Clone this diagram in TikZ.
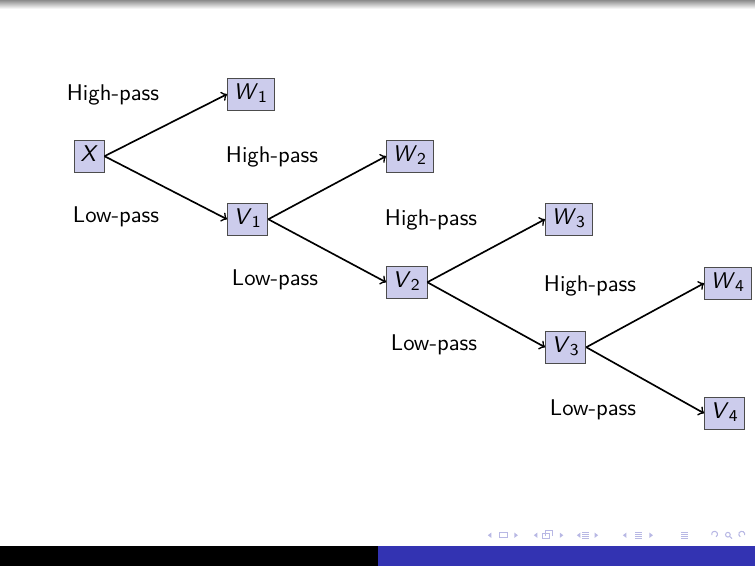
\documentclass[tikz,border=0pt]{standalone}
\usepackage{tikz}
\usetikzlibrary{arrows, positioning}
\definecolor{structblue}{RGB}{51,51,178}
\tikzstyle{filterbox} = [rectangle, draw=black!70, fill=structblue!25, minimum height=0.54cm, inner sep=0.3em, anchor=west, text height=1.6ex, text depth=0.45ex]
\tikzstyle{passlabel} = [inner sep=0pt]
\tikzstyle{arrow} = [thick,->]
\tikzstyle{navsym} = [structblue!35, line width=0.5pt]
\newcommand{\sig}[2]{\textit{#1}\textsubscript{#2}}

\begin{document}
\begin{tikzpicture}[font=\sffamily\fontsize{10.95}{13}\selectfont]
    \useasboundingbox (0,0) rectangle (12.8,9.6);
    % slide frame
    \shade[top color=black!45, bottom color=white] (0,9.45) rectangle (12.8,9.6);
    \fill[black] (0,0) rectangle (6.4,0.34);
    \fill[structblue] (6.4,0) rectangle (12.8,0.34);

    \node (x) [filterbox] at (1.255,6.952) {\textit{X}};
    \node (w1) [filterbox] at (3.849,8.003) {\sig{W}{1}};
    \node (v1) [filterbox] at (3.849,5.883) {\sig{V}{1}};
    \node (w2) [filterbox] at (6.545,6.952) {\sig{W}{2}};
    \node (v2) [filterbox] at (6.545,4.815) {\sig{V}{2}};
    \node (w3) [filterbox] at (9.240,5.883) {\sig{W}{3}};
    \node (v3) [filterbox] at (9.240,3.713) {\sig{V}{3}};
    \node (w4) [filterbox] at (11.936,4.798) {\sig{W}{4}};
    \node (v4) [filterbox] at (11.936,2.594) {\sig{V}{4}};

    \node (hp1) [passlabel] at (1.916,7.986) {High-pass};
    \node (lp1) [passlabel] at (1.967,5.917) {Low-pass};
    \node (hp2) [passlabel] at (4.612,6.935) {High-pass};
    \node (lp2) [passlabel] at (4.663,4.849) {Low-pass};
    \node (hp3) [passlabel] at (7.308,5.866) {High-pass};
    \node (lp3) [passlabel] at (7.358,3.747) {Low-pass};
    \node (hp4) [passlabel] at (10.003,4.747) {High-pass};
    \node (lp4) [passlabel] at (10.054,2.645) {Low-pass};

    \draw [arrow] (x.east) -- (w1.west);
    \draw [arrow] (x.east) -- (v1.west);
    \draw [arrow] (v1.east) -- (w2.west);
    \draw [arrow] (v1.east) -- (v2.west);
    \draw [arrow] (v2.east) -- (w3.west);
    \draw [arrow] (v2.east) -- (v3.west);
    \draw [arrow] (v3.east) -- (w4.west);
    \draw [arrow] (v3.east) -- (v4.west);

    % navigation symbols
    \begin{scope}[navsym]
        \foreach \lx/\rx in {8.27/8.78, 9.05/9.55, 9.78/10.14, 10.56/11.07} {
            \fill (\lx,0.526) -- ++(0.06,0.045) -- ++(0,-0.09) -- cycle;
            \fill (\rx,0.526) -- ++(-0.06,0.045) -- ++(0,-0.09) -- cycle;
        }
        \draw (8.46,0.48) rectangle (8.60,0.57);
        \draw (9.20,0.47) rectangle (9.32,0.56);
        \draw (9.25,0.51) -- (9.25,0.60) -- (9.37,0.60) -- (9.37,0.51);
        \foreach \bx in {9.93, 10.83, 11.61} {
            \foreach \dy in {-0.05,-0.017,0.017,0.05}
                \draw (\bx-0.06,0.526+\dy) -- (\bx+0.06,0.526+\dy);
        }
        \draw (12.14,0.50) arc (-60:200:0.05);
        \draw (12.34,0.535) circle (0.04);
        \draw (12.37,0.505) -- (12.41,0.47);
        \draw (12.55,0.50) arc (240:-20:0.05);
    \end{scope}
\end{tikzpicture}
\end{document}
